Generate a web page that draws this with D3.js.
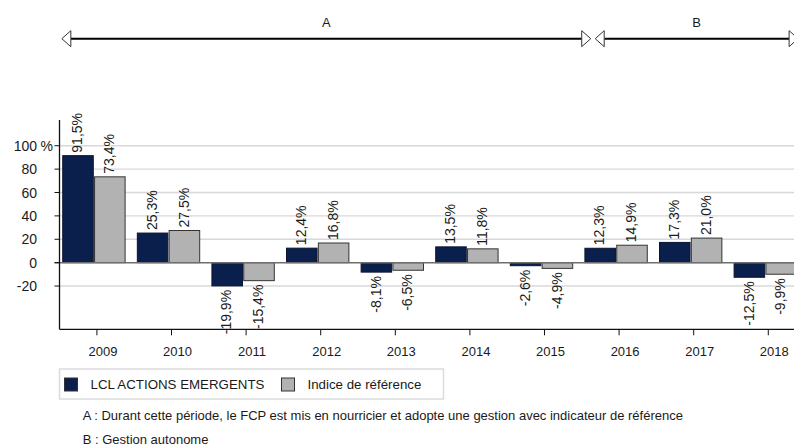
<!DOCTYPE html>
<html>
<head>
<meta charset="utf-8">
<script src="https://cdn.jsdelivr.net/npm/d3@7"></script>
<style>
  body { margin: 0; background: #fff; }
  text { font-family: "Liberation Sans", Arial, sans-serif; fill: #1a1a1a; }
</style>
</head>
<body>
<svg id="chart" width="794" height="446"></svg>
<script>
// Chart data
var years = ["2009", "2010", "2011", "2012", "2013", "2014", "2015", "2016", "2017", "2018"];
var seriesNames = ["LCL ACTIONS EMERGENTS", "Indice de référence"];
var fundValues = [91.5, 25.3, -19.9, 12.4, -8.1, 13.5, -2.6, 12.3, 17.3, -12.5];
var indexValues = [73.4, 27.5, -15.4, 16.8, -6.5, 11.8, -4.9, 14.9, 21.0, -9.9];
var yTicks = [-20, 0, 20, 40, 60, 80, 100];

// Periods shown above the chart (in category slots)
var periodLabels = ["A", "B"];
var periodStart = [0.07, 7.22];
var periodEnd = [7.16, 9.94];

var notes = [
  "A : Durant cette période, le FCP est mis en nourricier et adopte une gestion avec indicateur de référence",
  "B :  Gestion autonome"
];

var colors = ["#0b1f4d", "#b2b2b2"];

var svg = d3.select("#chart");

var x = d3.scaleBand()
  .domain(years)
  .range([50.5, 808.7])
  .paddingInner(0.164)
  .paddingOuter(0.164);

var xs = d3.scaleBand()
  .domain(seriesNames)
  .range([0, x.bandwidth()])
  .paddingInner(0.04);

var y = d3.scaleLinear()
  .domain([-57, 122])
  .range([329.3, 120]);

var axisX = 59.5;

// Slot position helper for the period arrows
var slot = function(u){
  return x(years[0]) - x.paddingInner() * x.step() / 2 + u * x.step();
};

// Grid lines
svg.append("g")
  .selectAll("line")
  .data(yTicks.filter(function(d){ return d !== 0; }))
  .enter()
  .append("line")
  .attr("x1", axisX)
  .attr("x2", 794)
  .attr("y1", function(d){ return y(d); })
  .attr("y2", function(d){ return y(d); })
  .attr("stroke", "#d8d8d8")
  .attr("stroke-width", 1.4);

// Bars
var rows = years.map(function(yr, i){
  return { year: yr, values: [fundValues[i], indexValues[i]] };
});

var groups = svg.append("g")
  .selectAll("g")
  .data(rows)
  .enter()
  .append("g")
  .attr("transform", function(d){ return "translate(" + x(d.year) + ",0)"; });

groups.selectAll("rect")
  .data(function(d){
    return d.values.map(function(v, j){ return { name: seriesNames[j], value: v, j: j }; });
  })
  .enter()
  .append("rect")
  .attr("x", function(d){ return xs(d.name); })
  .attr("width", xs.bandwidth())
  .attr("y", function(d){ return y(Math.max(0, d.value)); })
  .attr("height", function(d){ return Math.abs(y(d.value) - y(0)); })
  .attr("fill", function(d){ return colors[d.j]; })
  .attr("stroke", function(d){ return d.j === 0 ? "#0a1433" : "#333"; })
  .attr("stroke-width", 1);

// Value labels
groups.selectAll("text")
  .data(function(d){
    return d.values.map(function(v, j){ return { name: seriesNames[j], value: v }; });
  })
  .enter()
  .append("text")
  .attr("transform", function(d){
    var cx = xs(d.name) + xs.bandwidth() / 2;
    var cy = d.value >= 0 ? y(d.value) - 3 : y(d.value) + 4;
    return "translate(" + cx + "," + cy + ") rotate(-90)";
  })
  .attr("dy", "0.3em")
  .attr("text-anchor", function(d){ return d.value >= 0 ? "start" : "end"; })
  .style("font-size", "14px")
  .text(function(d){ return d.value.toFixed(1).replace(".", ",") + "%"; });

// Zero line
svg.append("line")
  .attr("x1", axisX - 5)
  .attr("x2", 794)
  .attr("y1", y(0))
  .attr("y2", y(0))
  .attr("stroke", "#6e6e6e")
  .attr("stroke-width", 1.5);

// Y axis
svg.append("line")
  .attr("x1", axisX).attr("x2", axisX)
  .attr("y1", y.range()[1]).attr("y2", y.range()[0])
  .attr("stroke", "#111").attr("stroke-width", 1.3);

var yTickG = svg.append("g")
  .selectAll("g")
  .data(yTicks)
  .enter()
  .append("g");

yTickG.append("line")
  .attr("x1", axisX - 5).attr("x2", axisX)
  .attr("y1", function(d){ return y(d); })
  .attr("y2", function(d){ return y(d); })
  .attr("stroke", "#111");

yTickG.append("text")
  .attr("x", 37)
  .attr("y", function(d){ return y(d); })
  .attr("dy", "0.36em")
  .attr("text-anchor", "end")
  .style("font-size", "14px")
  .text(function(d){ return d; });

svg.append("text")
  .attr("x", 40.5)
  .attr("y", y(100))
  .attr("dy", "0.36em")
  .style("font-size", "14px")
  .text("%");

// X axis
svg.append("line")
  .attr("x1", axisX).attr("x2", 794)
  .attr("y1", y.range()[0]).attr("y2", y.range()[0])
  .attr("stroke", "#111").attr("stroke-width", 1.3);

var xTickG = svg.append("g")
  .selectAll("g")
  .data(years)
  .enter()
  .append("g")
  .attr("transform", function(d){ return "translate(" + (x(d) + x.bandwidth() / 2 + 3) + "," + y.range()[0] + ")"; });

xTickG.append("line")
  .attr("y1", 0).attr("y2", 6)
  .attr("stroke", "#111");

xTickG.append("text")
  .attr("x", 6)
  .attr("y", 27)
  .attr("text-anchor", "middle")
  .style("font-size", "13px")
  .text(function(d){ return d; });

// Period arrows
var arrowY = 38.7;
var periods = periodLabels.map(function(l, i){
  return { label: l, x1: slot(periodStart[i]), x2: slot(periodEnd[i]) };
});

var pg = svg.append("g")
  .selectAll("g")
  .data(periods)
  .enter()
  .append("g");

pg.append("line")
  .attr("x1", function(d){ return d.x1 + 9; })
  .attr("x2", function(d){ return d.x2 - 9; })
  .attr("y1", arrowY).attr("y2", arrowY)
  .attr("stroke", "#000").attr("stroke-width", 2);

pg.append("path")
  .attr("d", function(d){
    return "M" + d.x1 + "," + arrowY + "L" + (d.x1 + 9) + "," + (arrowY - 8) +
      "L" + (d.x1 + 9) + "," + (arrowY + 8) + "Z";
  })
  .attr("fill", "#fff").attr("stroke", "#333").attr("stroke-width", 1);

pg.append("path")
  .attr("d", function(d){
    return "M" + d.x2 + "," + arrowY + "L" + (d.x2 - 9) + "," + (arrowY - 8) +
      "L" + (d.x2 - 9) + "," + (arrowY + 8) + "Z";
  })
  .attr("fill", "#fff").attr("stroke", "#333").attr("stroke-width", 1);

pg.append("text")
  .attr("x", function(d){ return (d.x1 + d.x2) / 2; })
  .attr("y", 27)
  .attr("text-anchor", "middle")
  .style("font-size", "13px")
  .text(function(d){ return d.label; });

// Legend
var legend = svg.append("g").attr("transform", "translate(" + axisX + ",369)");

legend.append("rect")
  .attr("width", 384).attr("height", 30)
  .attr("fill", "#fff").attr("stroke", "#dcdcdc").attr("stroke-width", 1.5);

var legendX = [5, 222];
var li = legend.selectAll("g.item")
  .data(seriesNames)
  .enter()
  .append("g")
  .attr("class", "item")
  .attr("transform", function(d, i){ return "translate(" + legendX[i] + ",9)"; });

li.append("rect")
  .attr("width", 13).attr("height", 13)
  .attr("fill", function(d, i){ return colors[i]; })
  .attr("stroke", "#333").attr("stroke-width", 1);

li.append("text")
  .attr("x", 26)
  .attr("y", 11)
  .style("font-size", "13.3px")
  .text(function(d){ return d; });

// Footnotes
svg.append("g")
  .selectAll("text")
  .data(notes)
  .enter()
  .append("text")
  .attr("x", 82.7)
  .attr("y", function(d, i){ return 420 + i * 24; })
  .style("font-size", "13px")
  .text(function(d){ return d; });
</script>
</body>
</html>
